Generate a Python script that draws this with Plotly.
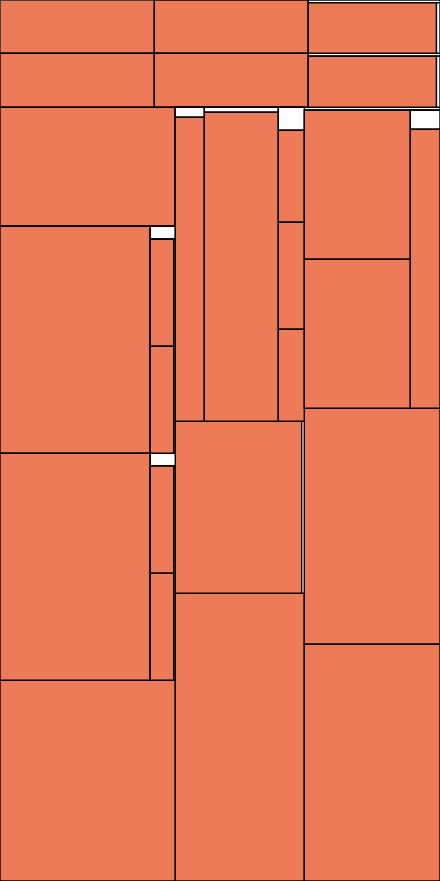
import plotly.graph_objects as go

FILL = "#ED7B57"
BLANK = "#FFFFFF"

# node ids, parents, values (leaf areas; parents 0 with branchvalues="remainder"), kind (f = filled, b = blank)
ids = [
    "root", "R", "top", "bottom",
    "A", "A1", "A2",
    "B", "B1", "B2",
    "C", "Ctop", "C1", "C1leaf", "C1strip", "Cgap", "C2", "C2leaf", "C2strip",
    "D", "D1", "D2", "D2a", "D2b", "D2bhead", "D2bbody", "D2bstack", "D2b1", "D2b2", "D2bstrip",
    "D3", "D3a", "D3b", "D3bhead", "D3bbody", "D3bstack", "D3b1", "D3b2", "D3bstrip", "D4",
    "E", "E1", "E1a", "E1ahead", "E1aleaf", "E1b", "E1bhead", "E1bleaf",
    "E1c", "E1chead", "E1c1", "E1c2", "E1c3", "E2", "E2leaf", "E2strip", "E3",
    "F", "Ftop", "F1", "F1a", "F1a1", "F1a2", "F1b", "F1bhead", "F1bleaf", "F2", "F3",
]
parents = [
    "", "root", "R", "R",
    "top", "A", "A",
    "top", "B", "B",
    "top", "C", "C", "C1", "C1", "C", "C", "C2", "C2",
    "bottom", "D", "D", "D2", "D2", "D2b", "D2b", "D2bbody", "D2bstack", "D2bstack", "D2bbody",
    "D", "D3", "D3", "D3b", "D3b", "D3bbody", "D3bstack", "D3bstack", "D3bbody", "D",
    "bottom", "E", "E1", "E1a", "E1a", "E1", "E1b", "E1b",
    "E1", "E1c", "E1c", "E1c", "E1c", "E", "E2", "E2", "E",
    "bottom", "F", "F", "F1", "F1a", "F1a", "F1", "F1b", "F1b", "F", "F",
]
values = [
    0, 0, 0, 0,
    0, 8224, 8332,
    0, 8208, 8316,
    0, 356, 0, 6487, 177, 395, 0, 6538, 179,
    0, 20861, 0, 34118, 0, 325, 0, 0, 2504, 2504, 342,
    0, 34118, 0, 318, 0, 0, 2511, 2504, 343, 35183,
    0, 0, 0, 290, 8816, 0, 370, 22866,
    0, 598, 2392, 2782, 2392, 0, 21741, 447, 37113,
    0, 407, 0, 0, 15794, 15794, 0, 564, 8286, 32025, 32120,
]
kind = [
    "b", "b", "f", "f",
    "f", "f", "f",
    "f", "f", "f",
    "b", "b", "b", "f", "b", "b", "b", "f", "b",
    "f", "f", "f", "f", "b", "b", "b", "f", "f", "f", "b",
    "f", "f", "b", "b", "b", "f", "f", "f", "b", "f",
    "f", "f", "b", "b", "f", "b", "b", "f",
    "b", "b", "f", "f", "f", "b", "f", "b", "f",
    "f", "b", "f", "f", "f", "f", "b", "b", "f", "f", "f",
]

colors = [FILL if k == "f" else BLANK for k in kind]

fig = go.Figure(go.Treemap(
    ids=ids,
    labels=ids,
    parents=parents,
    values=values,
    branchvalues="remainder",
    sort=False,
    marker=dict(colors=colors, line=dict(color="black", width=1.4),
                pad=dict(t=0, l=0, r=0, b=0)),
    tiling=dict(packing="slice-dice", pad=0),
    pathbar=dict(visible=False),
    textinfo="none",
    hoverinfo="none",
))
fig.update_layout(
    width=440, height=881,
    margin=dict(l=0, r=0, t=0, b=0),
    paper_bgcolor="white",
    plot_bgcolor="white",
)
fig.write_html("out.html")
